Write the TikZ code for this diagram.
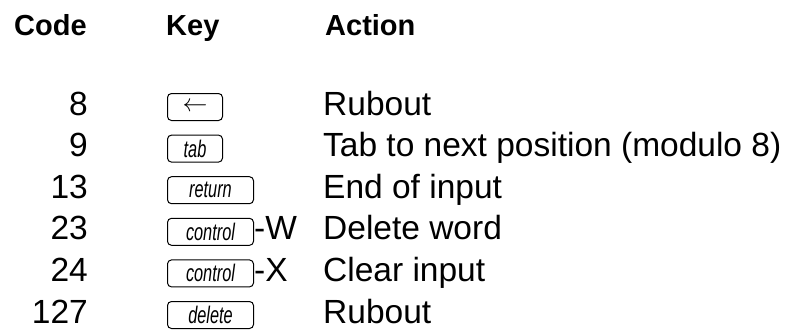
\documentclass[tikz,border=0pt]{standalone}
\usepackage{fontspec}
\setmainfont{Liberation Sans}
\usepackage{graphicx}
\begin{document}
\begin{tikzpicture}[x=1pt,y=-1pt,
  head/.style={inner sep=0pt, anchor=base west, font=\fontsize{29}{34}\selectfont\bfseries},
  code/.style={inner sep=0pt, anchor=base east, font=\fontsize{33.5}{40}\selectfont},
  act/.style={inner sep=0pt, anchor=base west, font=\fontsize{33.5}{40}\selectfont},
  keycap/.style={draw, line width=1pt, rounded corners=4pt, inner sep=0pt,
     minimum height=27pt, anchor=south west, font=\fontsize{24}{27}\selectfont\itshape},
  keysmall/.style={keycap, minimum width=55pt},
  keywide/.style={keycap, minimum width=86pt}
]
\useasboundingbox (0,0) rectangle (786,330);
% headers
\node[head] (hcode) at (14,35) {Code};
\node[head] (hkey) at (166,35) {Key};
\node[head] (hact) at (325,35) {Action};
% rows
\node[code] (c8) at (88,115) {8};
\node[code] (c9) at (88,156.6) {9};
\node[code] (c13) at (88,198.2) {13};
\node[code] (c23) at (88,239.8) {23};
\node[code] (c24) at (88,281.4) {24};
\node[code] (c127) at (88,323) {127};
% keys
\node[keysmall] (k8) at (167,121) {\fontsize{24}{27}\selectfont$\leftarrow$};
\node[keysmall] (k9) at (167,162.6) {\scalebox{0.68}[1]{tab}};
\node[keywide] (k13) at (167,204.2) {\scalebox{0.68}[1]{return}};
\node[keywide] (k23) at (167,245.8) {\scalebox{0.68}[1]{control}};
\node[keywide] (k24) at (167,287.4) {\scalebox{0.68}[1]{control}};
\node[keywide] (k127) at (167,329) {\scalebox{0.68}[1]{delete}};
\node[act] (w23) at (k23.east |- c23.base) {-W};
\node[act] (x24) at (k24.east |- c24.base) {-X};
% actions
\node[act] (a8) at (323,115) {Rubout};
\node[act] (a9) at (323,156.6) {Tab to next position (modulo 8)};
\node[act] (a13) at (323,198.2) {End of input};
\node[act] (a23) at (323,239.8) {Delete word};
\node[act] (a24) at (323,281.4) {Clear input};
\node[act] (a127) at (323,323) {Rubout};
\end{tikzpicture}
\end{document}
